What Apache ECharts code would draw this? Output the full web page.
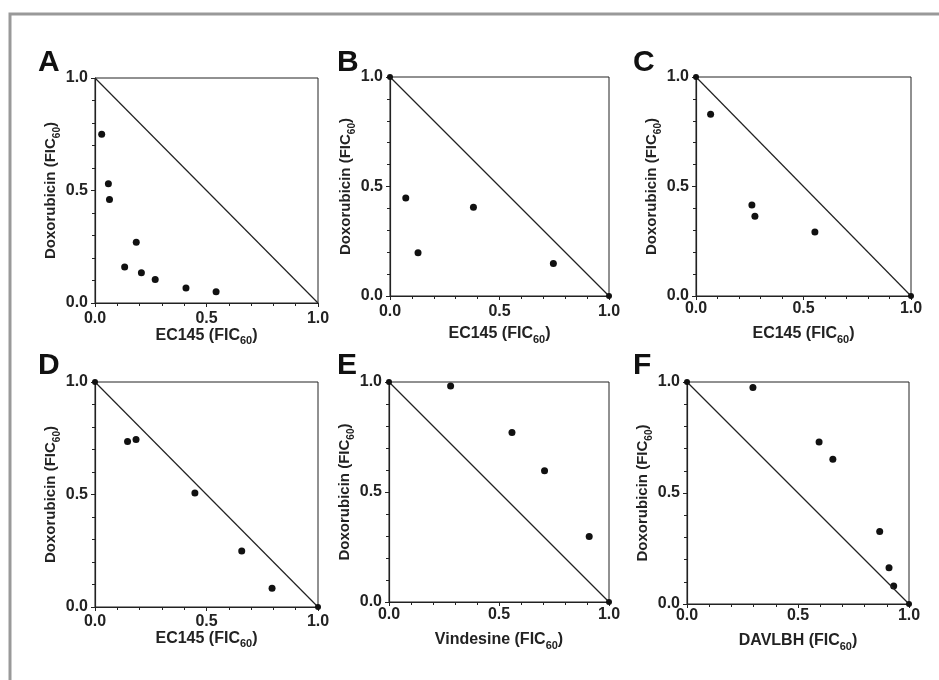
<!DOCTYPE html>
<html>
<head>
<meta charset="utf-8">
<script src="https://cdn.jsdelivr.net/npm/echarts@6/dist/echarts.min.js"></script>
<style>
  html, body { margin: 0; padding: 0; background: #fff; }
  #main { width: 939px; height: 680px; }
</style>
</head>
<body>
<div id="main"></div>
<script>
// panel letters and x axis drug names
var panels = ['A', 'B', 'C', 'D', 'E', 'F'];
var xDrugs = ['EC145', 'EC145', 'EC145', 'EC145', 'Vindesine', 'DAVLBH'];
var yDrug = 'Doxorubicin';
var tickLabels = ['0.0', '0.5', '1.0'];

// isobologram points [x FIC60, y FIC60]
var dataA = [[0.03, 0.75], [0.06, 0.53], [0.065, 0.46], [0.185, 0.27], [0.133, 0.16],
             [0.208, 0.135], [0.27, 0.105], [0.408, 0.067], [0.543, 0.05]];
var dataB = [[0.072, 0.447], [0.128, 0.198], [0.381, 0.405], [0.746, 0.148]];
var dataC = [[0.068, 0.83], [0.26, 0.416], [0.274, 0.364], [0.553, 0.292]];
var dataD = [[0.146, 0.736], [0.184, 0.745], [0.448, 0.507], [0.658, 0.249], [0.794, 0.083]];
var dataE = [[0.28, 0.982], [0.559, 0.77], [0.707, 0.597], [0.91, 0.298]];
var dataF = [[0.297, 0.975], [0.595, 0.73], [0.657, 0.652], [0.868, 0.327], [0.91, 0.163], [0.931, 0.081]];
var allData = [dataA, dataB, dataC, dataD, dataE, dataF];

// line of additivity
var additivity = [[0, 1], [1, 0]];
var endDots = [false, true, true, true, true, true];

// layout of each panel (px)
var grids = [
  { left: 95, top: 78, width: 223, height: 225 },
  { left: 390, top: 77, width: 219, height: 219 },
  { left: 696, top: 77, width: 215, height: 219 },
  { left: 95, top: 382, width: 223, height: 225 },
  { left: 389, top: 382, width: 220, height: 220 },
  { left: 687, top: 382, width: 222, height: 222 }
];
var xLabelMargin = [8, 8, 5, 7, 5, 4];
var xNameGap = [20, 27, 27, 20, 27, 26];
var yNameGap = [27, 29, 28, 33, 31, 32];
var letterPos = [[38, 48], [337, 48], [633, 48], [38, 351], [337, 351], [633, 351]];

var font = 'Liberation Sans, Arial, sans-serif';
function richFor(size) {
  return {
    a: { fontFamily: font, fontWeight: 'bold', fontSize: size, color: '#222', lineHeight: 22, verticalAlign: 'middle' },
    s: { fontFamily: font, fontWeight: 'bold', fontSize: size - 5, color: '#222', lineHeight: 10, verticalAlign: 'bottom' }
  };
}
function ficName(drug) {
  return '{a|' + drug + ' (FIC}{s|60}{a|)}';
}

var option = {
  backgroundColor: '#fff',
  animation: false,
  grid: [],
  xAxis: [],
  yAxis: [],
  series: [],
  graphic: [
    { type: 'polyline', shape: { points: [[10, 700], [10, 14], [945, 14]] },
      style: { stroke: '#999', lineWidth: 3, fill: null } }
  ]
};

grids.forEach(function (g, i) {
  option.grid.push({
    left: g.left, top: g.top, width: g.width, height: g.height,
    show: true, borderColor: '#222', borderWidth: 1, backgroundColor: 'transparent'
  });
  var axisCommon = {
    gridIndex: i, type: 'value', min: 0, max: 1, interval: 0.5,
    splitLine: { show: false },
    axisLine: { lineStyle: { color: '#222', width: 1.2 } },
    axisTick: { length: 4, lineStyle: { color: '#222' } },
    minorTick: { show: true, splitNumber: 5, length: 3, lineStyle: { color: '#222' } },
    axisLabel: {
      fontFamily: font, fontWeight: 'bold', fontSize: 16, color: '#222',
      formatter: function (v) { return tickLabels[Math.round(v * 2)]; }
    },
    nameLocation: 'middle'
  };
  option.xAxis.push(Object.assign({}, axisCommon, {
    name: ficName(xDrugs[i]),
    nameGap: xNameGap[i],
    nameTextStyle: { rich: richFor(16) },
    axisLabel: Object.assign({}, axisCommon.axisLabel, { margin: xLabelMargin[i] })
  }));
  option.yAxis.push(Object.assign({}, axisCommon, {
    name: ficName(yDrug),
    nameGap: yNameGap[i],
    nameTextStyle: { rich: richFor(15) },
    axisLabel: Object.assign({}, axisCommon.axisLabel, { margin: 7 })
  }));
  option.series.push({
    type: 'line', xAxisIndex: i, yAxisIndex: i,
    data: additivity,
    symbol: 'circle', symbolSize: 6, showSymbol: endDots[i],
    itemStyle: { color: '#111' },
    lineStyle: { color: '#222', width: 1.2 },
    silent: true
  });
  option.series.push({
    type: 'scatter', xAxisIndex: i, yAxisIndex: i,
    data: allData[i],
    symbol: 'circle', symbolSize: 7,
    itemStyle: { color: '#111', opacity: 1 }
  });
  option.graphic.push({
    type: 'text', left: letterPos[i][0], top: letterPos[i][1],
    style: { text: panels[i], font: 'bold 30px ' + font, fill: '#111' }
  });
});

var myChart = echarts.init(document.getElementById('main'));
myChart.setOption(option);
</script>
</body>
</html>
